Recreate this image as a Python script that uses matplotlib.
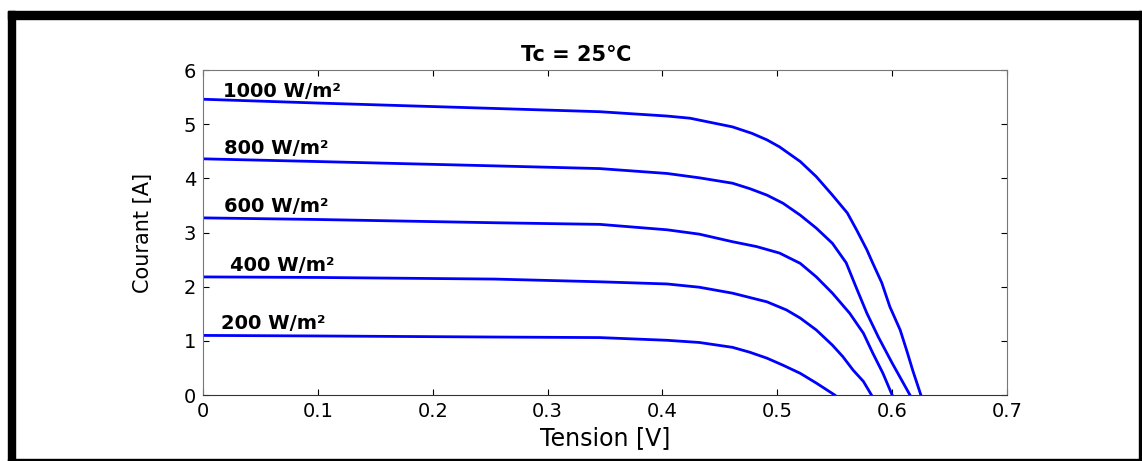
import matplotlib.pyplot as plt
from matplotlib.patches import Rectangle

plt.rcParams['font.family'] = ['DejaVu Sans']

# I-V curves (tension in V, courant in A)
v_1000 = [0.0, 0.10, 0.254, 0.3455, 0.404, 0.424, 0.461, 0.478, 0.491, 0.502, 0.520, 0.534, 0.548,
          0.561, 0.569, 0.578, 0.583, 0.591, 0.598, 0.607, 0.613, 0.618, 0.625]
i_1000 = [5.46, 5.39, 5.29, 5.23, 5.15, 5.11, 4.95, 4.83, 4.71, 4.58, 4.31, 4.03, 3.69,
          3.36, 3.05, 2.68, 2.44, 2.07, 1.63, 1.20, 0.80, 0.45, 0.0]

v_800 = [0.0, 0.10, 0.254, 0.3455, 0.404, 0.432, 0.461, 0.476, 0.491, 0.505, 0.520, 0.534, 0.548,
         0.560, 0.569, 0.578, 0.588, 0.600, 0.6155]
i_800 = [4.36, 4.31, 4.23, 4.18, 4.09, 4.01, 3.91, 3.81, 3.69, 3.54, 3.32, 3.08, 2.80,
         2.44, 1.97, 1.51, 1.07, 0.59, 0.0]

v_600 = [0.0, 0.10, 0.254, 0.3455, 0.404, 0.432, 0.461, 0.482, 0.502, 0.520, 0.534, 0.548,
         0.563, 0.575, 0.583, 0.592, 0.600]
i_600 = [3.27, 3.24, 3.18, 3.15, 3.05, 2.97, 2.83, 2.74, 2.62, 2.43, 2.18, 1.88,
         1.51, 1.14, 0.78, 0.40, 0.0]

v_400 = [0.0, 0.10, 0.254, 0.3455, 0.404, 0.432, 0.461, 0.491, 0.508, 0.520, 0.534, 0.548,
         0.557, 0.566, 0.575, 0.582]
i_400 = [2.18, 2.17, 2.14, 2.09, 2.05, 1.99, 1.88, 1.72, 1.57, 1.42, 1.20, 0.92,
         0.71, 0.46, 0.25, 0.0]

v_200 = [0.0, 0.10, 0.254, 0.3455, 0.404, 0.432, 0.461, 0.476, 0.491, 0.505, 0.520, 0.534, 0.550]
i_200 = [1.10, 1.09, 1.07, 1.06, 1.01, 0.97, 0.88, 0.79, 0.68, 0.55, 0.40, 0.22, 0.0]

labels = ['1000 W/m²', '800 W/m²', '600 W/m²', '400 W/m²', '200 W/m²']
label_x = [0.0175, 0.018, 0.018, 0.0235, 0.016]
label_y = [5.61, 4.55, 3.48, 2.40, 1.32]

fig = plt.figure(figsize=(11.42, 4.61), dpi=100)
ax = fig.add_axes([203 / 1142, 1 - 395 / 461, 804 / 1142, 325 / 461])

for v, i in [(v_1000, i_1000), (v_800, i_800), (v_600, i_600), (v_400, i_400), (v_200, i_200)]:
    ax.plot(v, i, color='#0000ff', linewidth=2)

for txt, x, y in zip(labels, label_x, label_y):
    ax.text(x, y, txt, fontsize=14, fontweight='bold', va='center', ha='left')

ax.set_xlim(0, 0.7)
ax.set_ylim(0, 6)
ax.set_xticks([0, 0.1, 0.2, 0.3, 0.4, 0.5, 0.6, 0.7])
ax.set_xticklabels(['0', '0.1', '0.2', '0.3', '0.4', '0.5', '0.6', '0.7'])
ax.set_yticks([0, 1, 2, 3, 4, 5, 6])
ax.tick_params(direction='in', length=4, labelsize=14, top=True, right=True, pad=5)
for s in ['top', 'right', 'left']:
    ax.spines[s].set_color('#777777')
ax.spines['bottom'].set_color('#333333')

ax.set_xlabel('Tension [V]', fontsize=17, labelpad=4)
ax.set_ylabel('Courant [A]', fontsize=15, labelpad=22)
fig.text(576 / 1142, 1 - 55 / 461, 'Tc = 25℃', fontsize=15, fontweight='bold',
         ha='center', va='center')

# black frame around the picture
W, H = 1142, 461
fig.add_artist(Rectangle((8 / W, 1 - 19 / H), 1 - 8 / W, 8 / H, transform=fig.transFigure, color='black'))
fig.add_artist(Rectangle((8 / W, 0), 7 / W, 1 - 11 / H, transform=fig.transFigure, color='black'))
fig.add_artist(Rectangle((1139 / W, 0), 2 / W, 1 - 11 / H, transform=fig.transFigure, color='black'))
fig.add_artist(Rectangle((8 / W, 0), 1 - 8 / W, 2 / H, transform=fig.transFigure, color='black'))

fig.savefig('out.png', dpi=100)
